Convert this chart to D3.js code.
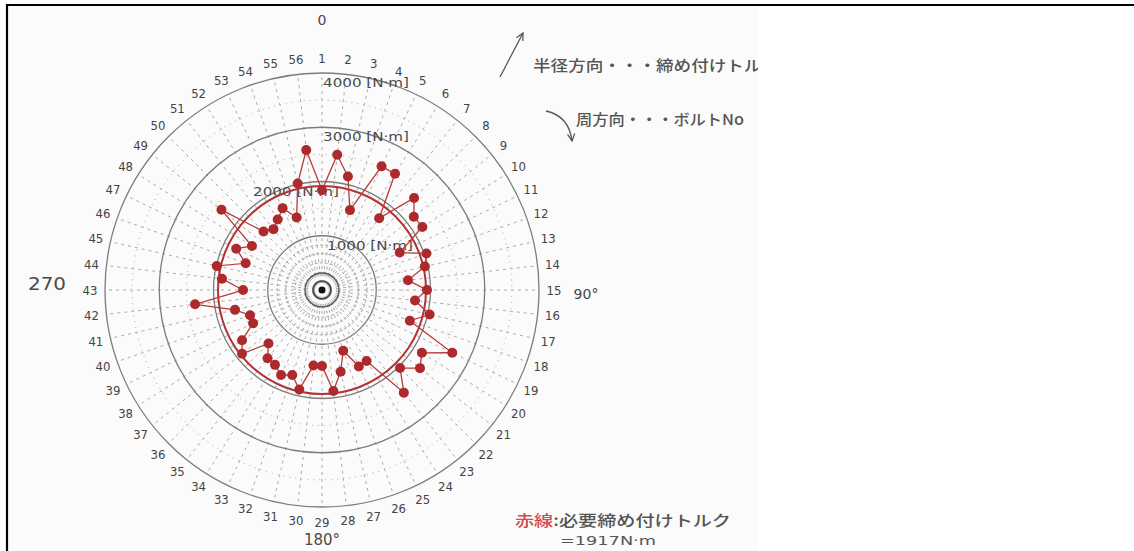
<!DOCTYPE html>
<html>
<head>
<meta charset="utf-8">
<script src="https://cdn.jsdelivr.net/npm/d3@7"></script>
<style>
  html, body { margin: 0; padding: 0; background: #fff; }
  svg { display: block; }
</style>
</head>
<body>
<svg id="chart" width="1134" height="551"></svg>
<script>
// Bolt numbers around the flange (clockwise from the top)
const bolts = [1,2,3,4,5,6,7,8,9,10,11,12,13,14,15,16,17,18,19,20,21,22,23,24,25,26,27,28,
               29,30,31,32,33,34,35,36,37,38,39,40,41,42,43,44,45,46,47,48,49,50,51,52,53,54,55,56];

// Measured tightening torque per bolt [N·m]
const torque = [1840,2510,2145,1560,2530,2530,1690,2400,2165,2185,1590,2040,1945,1595,
                1935,1725,2035,1715,2665,2175,2310,2035,2420,1545,1565,1185,1545,1875,
                1400,1400,1880,1660,1740,1630,1610,1395,1885,1740,1410,1405,1645,2355,
                1455,1855,1990,1490,1755,1525,2370,1525,1435,1535,1675,1415,2015,2595];

// Required tightening torque [N·m]
const requiredTorque = 1917;

// Radial axis
const majorRings = [1000, 2000, 3000, 4000];
const majorRingLabels = ["1000 [N·m]", "2000 [N·m]", "3000 [N·m]", "4000 [N·m]"];
const minorRings = [170, 330, 500, 670, 830, 1500, 2500, 3500];

// Compass labels
const compassLabels = ["0", "90°", "180°", "270"];

const svg = d3.select("#chart");
const cx = 322, cy = 290;

const r = d3.scaleLinear().domain([0, 4000]).range([0, 217]);
const angle = d3.scaleLinear().domain([1, bolts.length + 1]).range([0, 2 * Math.PI]);

// scanned sheet area and frame
svg.append("rect").attr("x", 8).attr("y", 6).attr("width", 750).attr("height", 545).attr("fill", "#fbfbfb");
svg.append("line").attr("x1", 6).attr("x2", 1134).attr("y1", 5).attr("y2", 5)
   .attr("stroke", "#000").attr("stroke-width", 2.2);
svg.append("line").attr("x1", 7).attr("x2", 7).attr("y1", 4).attr("y2", 551)
   .attr("stroke", "#000").attr("stroke-width", 2.2);

const g = svg.append("g").attr("transform", `translate(${cx},${cy})`);

// minor rings
g.selectAll("circle.minor").data(minorRings).join("circle")
  .attr("class", "minor").attr("r", d => r(d))
  .attr("fill", "none").attr("stroke", "#9a9a9a").attr("stroke-width", 0.9)
  .attr("stroke-dasharray", d => d < 1000 ? "3,2" : "1,5");

// spokes, one per bolt
g.selectAll("line.spoke").data(bolts).join("line")
  .attr("class", "spoke")
  .attr("x1", 0).attr("y1", 0)
  .attr("x2", d => d3.pointRadial(angle(d), r(4000))[0])
  .attr("y2", d => d3.pointRadial(angle(d), r(4000))[1])
  .attr("stroke", "#a0a0a0").attr("stroke-width", 0.9)
  .attr("stroke-dasharray", "3,4");

// major rings
g.selectAll("circle.major").data(majorRings).join("circle")
  .attr("class", "major").attr("r", d => r(d))
  .attr("fill", "none").attr("stroke", "#7c7c7c").attr("stroke-width", 1.3);

// centre
g.append("circle").attr("r", 3.5).attr("fill", "#111");
g.append("circle").attr("r", 9).attr("fill", "none").attr("stroke", "#444").attr("stroke-width", 1.6);
g.append("circle").attr("r", 17).attr("fill", "none").attr("stroke", "#555").attr("stroke-width", 1.3);

// ring labels
const ringLabelDx = {1000: 5, 2000: -69, 3000: 1, 4000: 1};
g.selectAll("text.ring").data(majorRings).join("text")
  .attr("class", "ring")
  .attr("x", d => ringLabelDx[d])
  .attr("y", d => -r(d) + 14)
  .attr("font-family", "DejaVu Sans Condensed, Liberation Sans Narrow, sans-serif")
  .attr("font-size", 12).attr("fill", "#4a4a4a")
  .attr("textLength", 86).attr("lengthAdjust", "spacingAndGlyphs")
  .text((d, i) => majorRingLabels[i]);

// required torque circle
g.append("circle").attr("r", r(requiredTorque))
  .attr("fill", "none").attr("stroke", "#b03434").attr("stroke-width", 2);

// measured torque polygon
const pts = bolts.map((b, i) => ({ bolt: b, value: torque[i] }));
const radialLine = d3.lineRadial()
  .angle(d => angle(d.bolt))
  .radius(d => r(d.value))
  .curve(d3.curveLinearClosed);
g.append("path").attr("d", radialLine(pts))
  .attr("fill", "none").attr("stroke", "#b8383a").attr("stroke-width", 1.3);

g.selectAll("circle.pt").data(pts).join("circle")
  .attr("class", "pt")
  .attr("cx", d => d3.pointRadial(angle(d.bolt), r(d.value))[0])
  .attr("cy", d => d3.pointRadial(angle(d.bolt), r(d.value))[1])
  .attr("r", 5).attr("fill", "#ad2a2c");

// bolt numbers
g.selectAll("text.bolt").data(bolts).join("text")
  .attr("class", "bolt")
  .attr("x", d => d3.pointRadial(angle(d), 232)[0])
  .attr("y", d => d3.pointRadial(angle(d), 232)[1])
  .attr("text-anchor", "middle").attr("dominant-baseline", "central")
  .attr("font-family", "DejaVu Sans Condensed, Liberation Sans Narrow, sans-serif")
  .attr("font-size", 13).attr("fill", "#444")
  .text(d => d);

// compass labels
const compassPos = [[cx, 20, 14, null], [586, 294, 14, null], [cx, 540, 15, null], [47, 284, 17, 38]];
svg.selectAll("text.compass").data(compassLabels).join("text")
  .attr("class", "compass")
  .attr("x", (d, i) => compassPos[i][0]).attr("y", (d, i) => compassPos[i][1])
  .attr("text-anchor", "middle").attr("dominant-baseline", "central")
  .attr("font-family", "DejaVu Sans, sans-serif")
  .attr("font-size", (d, i) => compassPos[i][2]).attr("fill", "#4a4a4a")
  .each(function(d, i) {
    if (compassPos[i][3]) d3.select(this).attr("textLength", compassPos[i][3]).attr("lengthAdjust", "spacingAndGlyphs");
  })
  .text(d => d);

// direction notes (top right)
const defs = svg.append("defs");
defs.append("marker").attr("id", "head").attr("viewBox", "0 0 10 10")
  .attr("refX", 9).attr("refY", 5).attr("markerWidth", 9).attr("markerHeight", 9)
  .attr("orient", "auto-start-reverse").attr("markerUnits", "userSpaceOnUse")
  .append("path").attr("d", "M1,1 L9,5 L1,9").attr("fill", "none").attr("stroke", "#555").attr("stroke-width", 1.4);
defs.append("clipPath").attr("id", "sheet").append("rect")
  .attr("x", 0).attr("y", 0).attr("width", 758).attr("height", 551);

svg.append("line").attr("x1", 500).attr("y1", 77).attr("x2", 523).attr("y2", 33)
  .attr("stroke", "#555").attr("stroke-width", 1.3).attr("marker-end", "url(#head)");
svg.append("path").attr("d", "M546,111 Q569,116 572,141")
  .attr("fill", "none").attr("stroke", "#555").attr("stroke-width", 1.3).attr("marker-end", "url(#head)");

const noteFont = "Noto Sans CJK JP, sans-serif";
svg.append("text").attr("x", 533).attr("y", 64).attr("dominant-baseline", "central")
  .attr("clip-path", "url(#sheet)")
  .attr("font-family", noteFont).attr("font-size", 15).attr("font-weight", 500).attr("fill", "#555")
  .attr("textLength", 246).attr("lengthAdjust", "spacingAndGlyphs")
  .text("半径方向・・・締め付けトルク");
svg.append("text").attr("x", 576).attr("y", 118).attr("dominant-baseline", "central")
  .attr("font-family", noteFont).attr("font-size", 15).attr("font-weight", 500).attr("fill", "#555")
  .attr("textLength", 168).attr("lengthAdjust", "spacingAndGlyphs")
  .text("周方向・・・ボルトNo");

// legend for the red line
const leg = svg.append("text").attr("x", 515).attr("y", 519).attr("dominant-baseline", "central")
  .attr("font-family", noteFont).attr("font-size", 15).attr("font-weight", 500)
  .attr("textLength", 216).attr("lengthAdjust", "spacingAndGlyphs");
leg.append("tspan").attr("fill", "#d24a4a").text("赤線");
leg.append("tspan").attr("fill", "#555").text(":必要締め付けトルク");
svg.append("text").attr("x", 560).attr("y", 540).attr("dominant-baseline", "central")
  .attr("font-family", "DejaVu Sans Condensed, sans-serif").attr("font-size", 13).attr("fill", "#555")
  .attr("textLength", 96).attr("lengthAdjust", "spacingAndGlyphs")
  .text("=" + requiredTorque + "N·m");
</script>
</body>
</html>
